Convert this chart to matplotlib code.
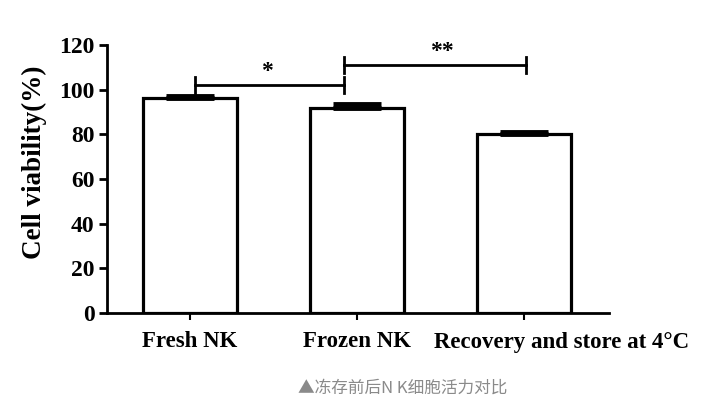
import matplotlib
matplotlib.use("Agg")
import matplotlib.pyplot as plt
import numpy as np
from matplotlib.transforms import offset_copy

# data
groups = ["Fresh NK", "Frozen NK", "Recovery and store at 4\u00b0C"]
viability = [96.3, 91.8, 80.2]
sem = [0.9, 1.6, 1.0]
yticks = [0, 20, 40, 60, 80, 100, 120]
caption = "\u25b2冻存前后N K细胞活力对比"

# significance brackets: (left x, right x, height, label x, label)
brackets = [(0.03, 0.92, 102.0, 0.46, "*"), (0.92, 2.01, 111.0, 1.51, "**")]

serif = ["Liberation Serif", "DejaVu Serif"]

fig = plt.figure(figsize=(7.21, 4.07), dpi=100)
ax = fig.add_axes([0.1484, 0.2310, 0.6963, 0.6585])

x = np.arange(len(groups))
ax.bar(x, viability, width=0.563, color="white", edgecolor="black",
       linewidth=2.3, zorder=2)
ax.errorbar(x, viability, yerr=[np.zeros(len(sem)), sem], fmt="none",
            ecolor="black", elinewidth=3, capsize=17, capthick=3.5, zorder=3)

for x0, x1, h, lx, lab in brackets:
    ax.plot([x0, x1], [h, h], color="black", lw=2.0, clip_on=False)
    ax.plot([x0, x0], [h - 3.5, h + 3.5], color="black", lw=2.0, clip_on=False)
    ax.plot([x1, x1], [h - 3.5, h + 3.5], color="black", lw=2.0, clip_on=False)
    ax.text(lx, h + 1.5, lab, ha="center", va="bottom",
            fontsize=17, fontweight="bold", family=serif)

ax.set_xlim(-0.497, 2.509)
ax.set_ylim(0, 120)
ax.set_yticks(yticks)
ax.set_yticklabels([str(t) for t in yticks], family=serif, fontsize=17,
                   fontweight="bold")
ax.set_xticks(x)
ax.set_xticklabels(groups[:-1] + [""], family=serif, fontsize=16.5,
                   fontweight="bold")
# last label sits right of its tick in the original
tr = offset_copy(ax.get_xaxis_transform(), fig=fig, x=38, y=-30, units="dots")
ax.text(x[-1], 0, groups[-1], transform=tr, ha="center", va="center",
        family=serif, fontsize=16.5, fontweight="bold")
ax.set_ylabel("Cell viability(%)", family=serif, fontsize=19.5,
              fontweight="bold")
ax.yaxis.set_label_coords(-0.119, 0.563)

for s in ["top", "right"]:
    ax.spines[s].set_visible(False)
for s in ["left", "bottom"]:
    ax.spines[s].set_linewidth(2.0)
ax.tick_params(axis="y", length=6, width=2.0, pad=3)
ax.tick_params(axis="x", length=5, width=1.5, pad=8)

fig.text(403 / 721, 1 - 388 / 407, caption, ha="center", va="center",
         fontsize=12, color="#8a8a8a", family=["Noto Sans CJK SC", "DejaVu Sans"])

fig.savefig("out.png", dpi=100)
